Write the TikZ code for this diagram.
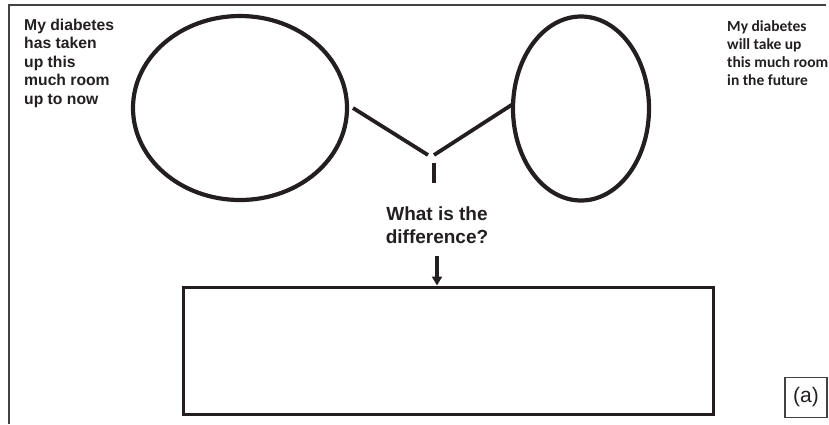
\documentclass[tikz,border=0pt]{standalone}
\usepackage{fontspec}
\setmainfont{Liberation Sans}
\newfontfamily\calib{Carlito}
\usetikzlibrary{shapes.geometric,arrows.meta}
\definecolor{ink}{HTML}{231F20}
\tikzset{
  roomshape/.style={ellipse,draw=ink,line width=4.2pt,inner sep=0pt},
  linkline/.style={draw=ink,line width=3.8pt},
  frameline/.style={draw=ink!85,line width=1.5pt},
  boxshape/.style={draw=ink,line width=3.8pt,inner sep=0pt},
  lefttext/.style={font=\bfseries\fontsize{15.7}{18.4}\selectfont,align=left,anchor=north west,inner sep=0pt,text=ink},
  righttext/.style={font=\calib\bfseries\fontsize{15.5}{18.3}\selectfont,align=left,anchor=north west,inner sep=0pt,text=ink},
  midtext/.style={font=\bfseries\fontsize{19}{23.5}\selectfont,align=center,inner sep=0pt,text=ink},
}
\begin{document}
\begin{tikzpicture}[x=1pt,y=-1pt]
\useasboundingbox (0,0) rectangle (829,424);
% frame
\coordinate (fTL) at (9,5);
\coordinate (fTR) at (826,5);
\coordinate (fBL) at (9,424);
\draw[frameline] (fTR) -- (fTL) -- (fBL);
% texts
\node[lefttext] (ltxt) at (24,19) {My diabetes\\has taken\\up this\\much room\\up to now};
\node[righttext] (rtxt) at (727,20) {My diabetes\\will take up\\this much room\\in the future};
% ellipses
\node[roomshape,minimum width=214pt,minimum height=184pt] (lc) at (240,108) {};
\node[roomshape,minimum width=136pt,minimum height=184pt] (rc) at (581,108.5) {};
% connectors
\coordinate (la) at (353,108);
\coordinate (lb) at (428,155);
\coordinate (ra) at (513,104);
\coordinate (rb) at (434,155);
\coordinate (va) at (434,163);
\coordinate (vb) at (434,183);
\draw[linkline] (la) -- (lb);
\draw[linkline] (ra) -- (rb);
\draw[linkline] (va) -- (vb);
\node[midtext] (q) at (437,225) {What is the\\difference?};
% box
\node[boxshape,minimum width=530pt,minimum height=127pt,anchor=north west] (box) at (181.5,285.5) {};
\coordinate (arrA) at (437,256);
\draw[draw=ink,line width=3.2pt,-{Triangle[length=9pt,width=10pt]}] (arrA) -- (arrA |- box.north);
% (a)
\node[draw=ink!85,line width=1.3pt,minimum width=42pt,minimum height=40pt,inner sep=0pt,font=\fontsize{21}{24}\selectfont,text=ink] (lab) at (806,397.5) {(a)};
\end{tikzpicture}
\end{document}
